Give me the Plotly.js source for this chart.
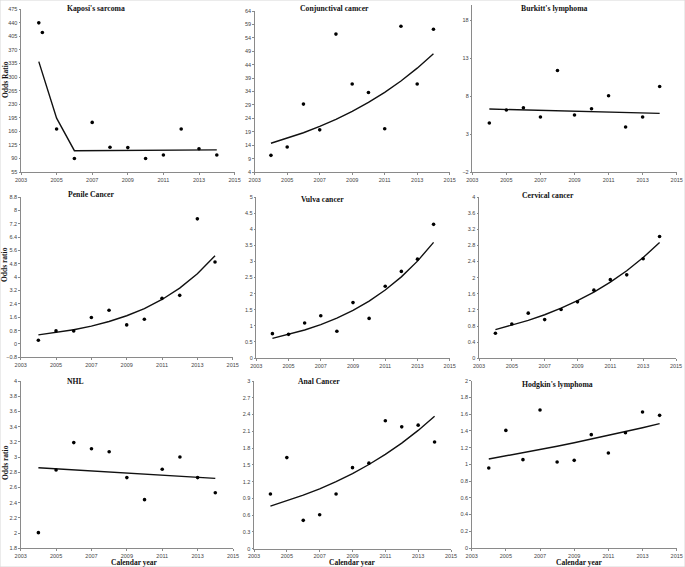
<!DOCTYPE html>
<html><head><meta charset="utf-8">
<script src="https://cdn.plot.ly/plotly-3.0.1.min.js"></script>
<style>html,body{margin:0;padding:0;background:#fff}#chart{width:685px;height:567px}</style>
</head><body><div id="chart"></div>
<script>
// ---------- data ----------
const years = [2004,2005,2006,2007,2008,2009,2010,2011,2012,2013,2014];

const titles = ["Kaposi's sarcoma","Conjunctival camcer","Burkitt's lymphoma",
                "Penile Cancer","Vulva cancer","Cervical cancer",
                "NHL","Anal Cancer","Hodgkin's lymphoma"];

// Kaposi's sarcoma (includes an extra point just after 2004)
const kaposiYears = [2004,2004.2,2005,2006,2007,2008,2009,2010,2011,2012,2013,2014];
const kaposiOR    = [440,415,166,90,183,119,118,90,99,166,115,99];
const kaposiFitX  = [2004,2005,2006,2014];
const kaposiFit   = [340,194,110,112];

const conjOR  = [10.2,13.3,29.3,19.7,55.4,36.8,33.6,20.1,58.3,36.8,57.2];
const conjFit = [14.7,16.55,18.63,20.97,23.61,26.58,29.93,33.69,37.93,42.7,48.07];

const burkittOR  = [4.45,6.16,6.46,5.24,11.38,5.5,6.33,8.04,3.92,5.24,9.27];
const burkittFitX = [2004,2014];
const burkittFit  = [6.29,5.72];

const penileOR  = [0.22,0.78,0.78,1.58,2.02,1.14,1.48,2.73,2.91,7.49,4.91];
const penileFit = [0.54,0.678,0.852,1.07,1.344,1.688,2.12,2.663,3.344,4.2,5.276];

const vulvaOR  = [0.756,0.735,1.087,1.31,0.83,1.72,1.23,2.23,2.69,3.07,4.15];
const vulvaFit = [0.61,0.728,0.87,1.038,1.24,1.48,1.767,2.11,2.52,3.008,3.592];

const cervOR  = [0.62,0.85,1.12,0.96,1.21,1.4,1.69,1.95,2.07,2.47,3.02];
const cervFit = [0.71,0.8165,0.939,1.08,1.242,1.428,1.642,1.889,2.172,2.498,2.872];

const nhlOR  = [2.006,2.83,3.19,3.11,3.07,2.73,2.44,2.84,3.0,2.73,2.53];
const nhlFitX = [2004,2014];
const nhlFit  = [2.86,2.72];

const analOR  = [0.978,1.63,0.507,0.608,0.978,1.45,1.53,2.29,2.18,2.21,1.91];
const analFit = [0.763,0.855,0.957,1.072,1.201,1.345,1.506,1.687,1.889,2.116,2.37];

const hodgOR  = [0.956,1.406,1.056,1.649,1.028,1.048,1.355,1.135,1.378,1.625,1.586];
const hodgFit = [1.064,1.1,1.138,1.176,1.216,1.258,1.301,1.345,1.391,1.438,1.487];

const yRanges = [[55,475],[4,64],[-2,20],[-0.8,8.8],[0,5],[0,4],[1.8,4],[0,3],[0,2]];
const yTick0  = [55,4,-2,-0.8,0,0,1.8,0,0];
const yDtick  = [35,5,5,0.8,0.5,0.4,0.2,0.3,0.2];

// ---------- layout geometry (pixels) ----------
const W = 685, H = 567;
const xPix = [[21,234.6],[254.7,449.7],[472.3,676.7],
              [20.7,232.7],[256.3,449.7],[479,676],
              [20.7,233],[254,451],[471.7,676.7]];
const yPix = [[9.3,172],[11,172],[5,172],
              [197,357.3],[197,358],[197,358.3],
              [381,548.3],[381,548.7],[380.7,548]];

const series = [
  {px:kaposiYears, py:kaposiOR, lx:kaposiFitX, ly:kaposiFit},
  {px:years, py:conjOR, lx:years, ly:conjFit},
  {px:years, py:burkittOR, lx:burkittFitX, ly:burkittFit},
  {px:years, py:penileOR, lx:years, ly:penileFit},
  {px:years, py:vulvaOR, lx:years, ly:vulvaFit},
  {px:years, py:cervOR, lx:years, ly:cervFit},
  {px:years, py:nhlOR, lx:nhlFitX, ly:nhlFit},
  {px:years, py:analOR, lx:years, ly:analFit},
  {px:years, py:hodgOR, lx:years, ly:hodgFit}
];

const data = [];
const layout = {
  width: W, height: H,
  margin: {l:0, r:0, t:0, b:0},
  paper_bgcolor: '#fff', plot_bgcolor: '#fff',
  showlegend: false,
  font: {family: 'Liberation Sans, Arial, sans-serif', size: 5.5, color: '#444'},
  annotations: [], shapes: []
};

const serif = 'Liberation Serif, Times New Roman, serif';

series.forEach((s, i) => {
  const n = i === 0 ? '' : String(i + 1);
  const xa = 'x' + n, ya = 'y' + n;
  data.push({x: s.lx, y: s.ly, xaxis: xa, yaxis: ya, mode: 'lines', type: 'scatter',
             line: {color: '#111', width: 1.4}, hoverinfo: 'skip'});
  data.push({x: s.px, y: s.py, xaxis: xa, yaxis: ya, mode: 'markers', type: 'scatter',
             marker: {color: '#000', size: 3.6}});
  layout['xaxis' + n] = {
    domain: [xPix[i][0] / W, xPix[i][1] / W], anchor: ya,
    range: [2003, 2015], tick0: 2003, dtick: 2,
    showline: true, linecolor: '#8a8a8a', linewidth: 1,
    showgrid: false, zeroline: false, ticks: 'outside', ticklen: 2, tickcolor: '#8a8a8a',
    tickfont: {size: 5.5, color: '#444'}
  };
  layout['yaxis' + n] = {
    domain: [1 - yPix[i][1] / H, 1 - yPix[i][0] / H], anchor: xa,
    range: yRanges[i], tick0: yTick0[i], dtick: yDtick[i],
    showline: true, linecolor: '#8a8a8a', linewidth: 1,
    showgrid: false, zeroline: false, ticks: 'outside', ticklen: 1.5, tickcolor: '#8a8a8a',
    tickfont: {size: 5.5, color: '#444'}
  };
});

// panel titles
const titlePos = [[96,9],[334.7,9],[554,9],[91,194],[322,199],[548,195],[75.5,381],[319,381],[557,384]];
titles.forEach((t, i) => {
  layout.annotations.push({text: '<b>' + t + '</b>', xref: 'paper', yref: 'paper',
    x: titlePos[i][0] / W, y: 1 - titlePos[i][1] / H, xanchor: 'center', yanchor: 'middle',
    showarrow: false, font: {family: serif, size: 7.7, color: '#111'}});
});

// y axis titles
[["Odds Ratio", 80], ["Odds ratio", 265], ["Odds ratio", 463]].forEach(([t, y]) => {
  layout.annotations.push({text: '<b>' + t + '</b>', xref: 'paper', yref: 'paper',
    x: 5 / W, y: 1 - y / H, xanchor: 'center', yanchor: 'middle', textangle: -90,
    showarrow: false, font: {family: serif, size: 7.5, color: '#111'}});
});

// x axis titles
[[134.5, 562.5], [352, 562.5], [579, 562.5]].forEach(([x, y]) => {
  layout.annotations.push({text: '<b>Calendar year</b>', xref: 'paper', yref: 'paper',
    x: x / W, y: 1 - y / H, xanchor: 'center', yanchor: 'middle',
    showarrow: false, font: {family: serif, size: 7.5, color: '#111'}});
});

// faint frame
layout.shapes.push({type: 'rect', xref: 'paper', yref: 'paper', x0: 0, x1: 1, y0: 0, y1: 1,
  line: {color: '#d8d8d8', width: 1}});

Plotly.newPlot('chart', data, layout, {staticPlot: true});
</script>
</body></html>
